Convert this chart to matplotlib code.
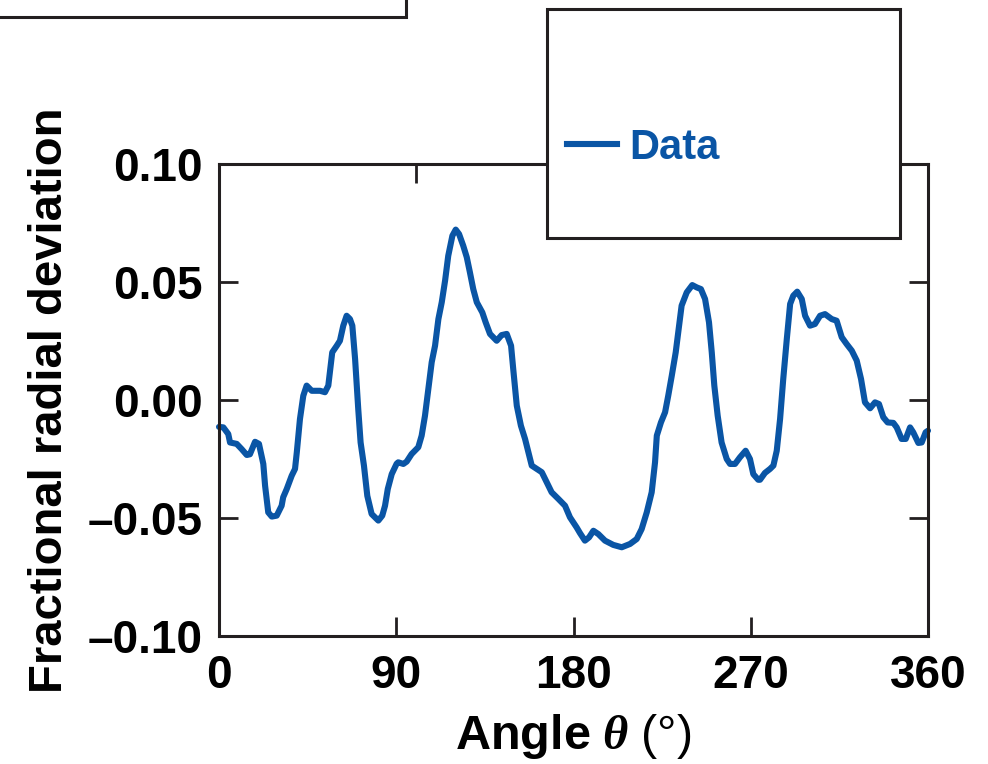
import matplotlib
matplotlib.use("Agg")
import matplotlib.pyplot as plt
from matplotlib.patches import Rectangle
from matplotlib.lines import Line2D

# angle (deg) and fractional radial deviation
angle = [0.0, 2.2, 4.7, 5.6, 9.0, 11.5, 14.1, 15.7, 18.3, 20.3, 22.5, 23.4, 25.0, 26.8,
         29.3, 31.8, 32.6, 34.4, 36.9, 38.6, 39.5, 41.1, 42.8, 44.5, 47.1, 51.3, 53.8,
         55.5, 56.4, 57.5, 59.8, 61.4, 63.1, 64.8, 66.5, 67.7, 69.1, 70.7, 71.9, 73.6,
         75.3, 77.5, 80.9, 82.9, 84.3, 85.7, 87.7, 90.2, 91.0, 93.6, 95.3, 97.8, 101.2,
         102.9, 104.6, 106.3, 108.0, 109.7, 111.4, 113.1, 114.8, 116.4, 118.5, 120.2,
         121.9, 124.0, 125.8, 127.4, 129.1, 130.9, 133.7, 135.4, 137.6, 141.0, 143.5,
         146.1, 148.3, 149.4, 151.2, 153.3, 155.4, 157.1, 158.8, 161.3, 163.9, 166.4,
         168.9, 172.3, 175.7, 178.2, 181.6, 183.3, 185.8, 187.9, 190.1, 192.6, 196.0,
         200.2, 204.5, 208.7, 212.1, 214.6, 217.2, 219.7, 221.4, 222.3, 224.4, 226.5,
         228.1, 229.9, 231.9, 233.6, 234.9, 237.5, 240.3, 242.6, 244.7, 246.8, 248.8,
         250.2, 251.5, 253.2, 255.2, 257.8, 259.5, 262.0, 264.5, 267.4, 269.6, 271.3,
         273.8, 274.7, 277.2, 279.8, 281.5, 283.2, 284.9, 286.5, 288.3, 290.0, 291.6,
         293.6, 295.9, 297.6, 300.1, 302.6, 305.2, 307.7, 311.1, 313.6, 316.2, 318.7,
         321.3, 323.8, 326.0, 328.0, 330.6, 333.1, 335.1, 337.3, 339.5, 342.4, 344.1,
         346.6, 348.7, 350.9, 352.5, 355.1, 356.8, 358.8, 360.0]
deviation = [-0.0114, -0.0116, -0.0144, -0.0180, -0.0186, -0.0208, -0.0233, -0.0230,
             -0.0177, -0.0186, -0.0271, -0.0363, -0.0476, -0.0494, -0.0490, -0.0448,
             -0.0412, -0.0377, -0.0321, -0.0292, -0.0222, -0.0081, 0.0018, 0.0061,
             0.0039, 0.0039, 0.0033, 0.0061, 0.0124, 0.0202, 0.0230, 0.0251, 0.0315,
             0.0357, 0.0343, 0.0315, 0.0174, -0.0038, -0.0180, -0.0278, -0.0406,
             -0.0483, -0.0511, -0.0490, -0.0448, -0.0377, -0.0314, -0.0270, -0.0264,
             -0.0271, -0.0261, -0.0229, -0.0200, -0.0151, -0.0066, 0.0047, 0.0160,
             0.0230, 0.0343, 0.0414, 0.0506, 0.0611, 0.0696, 0.0722, 0.0703, 0.0654,
             0.0605, 0.0541, 0.0470, 0.0414, 0.0371, 0.0329, 0.0280, 0.0251, 0.0275,
             0.0280, 0.0230, 0.0131, -0.0024, -0.0109, -0.0165, -0.0222, -0.0278,
             -0.0292, -0.0306, -0.0349, -0.0391, -0.0419, -0.0448, -0.0497, -0.0540,
             -0.0564, -0.0596, -0.0582, -0.0554, -0.0568, -0.0596, -0.0614, -0.0624,
             -0.0610, -0.0589, -0.0547, -0.0476, -0.0391, -0.0264, -0.0151, -0.0095,
             -0.0052, 0.0018, 0.0103, 0.0202, 0.0315, 0.0400, 0.0456, 0.0487, 0.0477,
             0.0470, 0.0428, 0.0329, 0.0202, 0.0061, -0.0066, -0.0180, -0.0250, -0.0271,
             -0.0271, -0.0243, -0.0215, -0.0250, -0.0314, -0.0338, -0.0338, -0.0309,
             -0.0292, -0.0278, -0.0215, -0.0080, 0.0089, 0.0258, 0.0407, 0.0442, 0.0459,
             0.0428, 0.0357, 0.0315, 0.0322, 0.0357, 0.0364, 0.0343, 0.0336, 0.0266,
             0.0237, 0.0209, 0.0167, 0.0089, -0.0010, -0.0035, -0.0010, -0.0017, -0.0073,
             -0.0095, -0.0097, -0.0116, -0.0165, -0.0165, -0.0116, -0.0137, -0.0182,
             -0.0180, -0.0137, -0.0130]

xticks = [0, 90, 180, 270, 360]
yticks = [-0.10, -0.05, 0.00, 0.05, 0.10]
top_ticks = [100, 200, 300]
ink = "#231f20"
blue = "#0a55a5"

plt.rcParams["font.family"] = "Liberation Sans"
plt.rcParams["font.weight"] = "bold"
plt.rcParams["mathtext.fontset"] = "custom"
plt.rcParams["mathtext.rm"] = "Liberation Sans:weight=normal"
plt.rcParams["mathtext.bf"] = "Liberation Sans:bold"
plt.rcParams["mathtext.it"] = "Liberation Serif:italic:bold"

fig = plt.figure(figsize=(9.88, 7.64), dpi=100)
ax = fig.add_axes([219 / 988, 1 - 636 / 764, 709 / 988, 472 / 764])

ax.plot(angle, deviation, color=blue, lw=4.4, solid_joinstyle="round",
        solid_capstyle="round", clip_on=False)
ax.set_xlim(0, 360)
ax.set_ylim(-0.10, 0.10)
ax.set_xticks(xticks)
ax.set_yticks(yticks)
ax.set_yticklabels([f"{v:.2f}".replace("-", "\u2013") for v in yticks])

for s in ax.spines.values():
    s.set_linewidth(2.2)
    s.set_color(ink)
ax.tick_params(direction="in", length=13.5, width=2.0, color=ink, labelsize=33,
               labelcolor="black")
ax.tick_params(axis="x", pad=13)
ax.tick_params(axis="y", pad=11.5, right=True)

sec = ax.secondary_xaxis("top")
sec.set_xticks(top_ticks)
sec.tick_params(direction="in", length=13.5, width=2.0, color=ink, labeltop=False)
sec.spines["top"].set_visible(False)

ax.set_ylabel("Fractional radial deviation", fontsize=34, fontweight="bold")
ax.yaxis.set_label_coords(-0.208, 0.5)
ax.set_xlabel(r"$\mathbf{Angle}\ \theta\ \mathrm{(°)}$", fontsize=35)
ax.xaxis.set_label_coords(0.5, -0.16)

# legend panel overlapping the top of the axes
fig.add_artist(Rectangle((547 / 988, 1 - 238 / 764), 353 / 988, 229 / 764,
                         transform=fig.transFigure, facecolor="white",
                         edgecolor=ink, lw=2.2, zorder=5))
leg = fig.legend(handles=[Line2D([], [], color=blue, lw=4.4)], labels=["Data"],
                 loc="center left", bbox_to_anchor=(567 / 988, 1 - 148 / 764),
                 frameon=False, borderpad=0, borderaxespad=0, handlelength=1.2,
                 handletextpad=0.3, prop={"size": 30, "weight": "bold"})
leg.get_texts()[0].set_color(blue)
leg.set_zorder(6)

# cropped panel at top left
fig.add_artist(Rectangle((-0.02, 1 - 17 / 764), 406 / 988 + 0.02, 0.1,
                         transform=fig.transFigure, facecolor="white",
                         edgecolor=ink, lw=2.2, zorder=5, clip_on=False))

fig.savefig("out.png", dpi=100)
